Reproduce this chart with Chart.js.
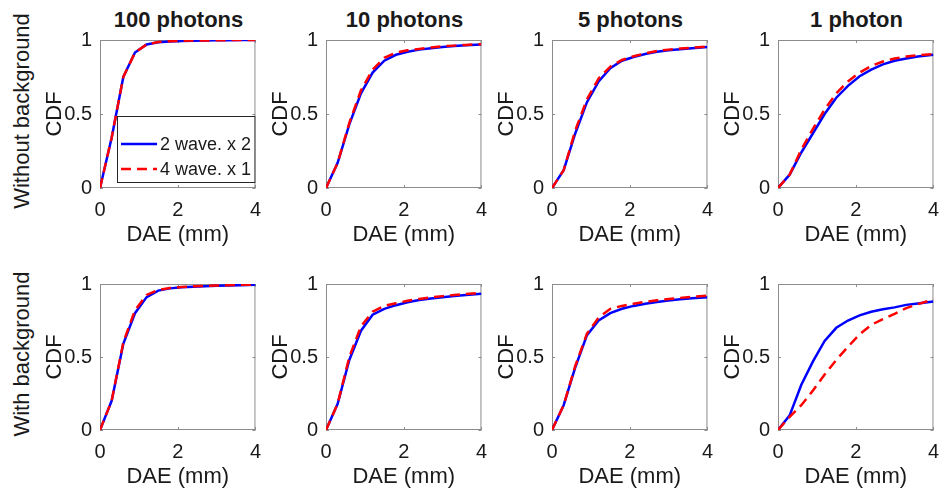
<!DOCTYPE html>
<html>
<head>
<meta charset="utf-8">
<script src="https://cdn.jsdelivr.net/npm/chart.js@4.4.1/dist/chart.umd.min.js"></script>
<style>
  body { margin: 0; background: #fff; }
  #wrap { position: relative; width: 942px; height: 495px; overflow: hidden; font-family: 'Liberation Sans', Arial, sans-serif; color: #1a1a1a; }
  canvas { position: absolute; }
  .ttl { position: absolute; font-weight: bold; font-size: 22px; transform: translate(-50%, -50%); white-space: nowrap; }
  .row { position: absolute; font-size: 22px; transform: translate(-50%, -50%) rotate(-90deg); white-space: nowrap; }
</style>
</head>
<body>
<div id="wrap"></div>
<script>
// DAE sample points (mm), shared by every panel
const dae = [0, 0.3, 0.6, 0.9, 1.2, 1.5, 1.8, 2.1, 2.4, 2.7, 3.0, 3.3, 3.6, 4.0];

const panelTitles = ['100 photons', '10 photons', '5 photons', '1 photon'];
const rowLabels = ['Without background', 'With background'];
const seriesNames = ['2 wave. x 2', '4 wave. x 1'];
const xTicks = [0, 2, 4];
const yTicks = [0, 0.5, 1];

// without background
const noBg100Wave2 = [0, 0.34, 0.75, 0.915, 0.97, 0.985, 0.99, 0.993, 0.995, 0.997, 0.998, 0.999, 1, 1];
const noBg100Wave4 = [0, 0.34, 0.75, 0.915, 0.97, 0.986, 0.991, 0.994, 0.996, 0.997, 0.998, 0.999, 1, 1];
const noBg10Wave2 = [0, 0.17, 0.43, 0.64, 0.78, 0.86, 0.90, 0.92, 0.935, 0.945, 0.953, 0.96, 0.965, 0.97];
const noBg10Wave4 = [0, 0.17, 0.44, 0.66, 0.80, 0.88, 0.915, 0.93, 0.94, 0.95, 0.957, 0.962, 0.967, 0.972];
const noBg5Wave2 = [0, 0.12, 0.37, 0.58, 0.72, 0.81, 0.86, 0.885, 0.905, 0.92, 0.93, 0.938, 0.945, 0.952];
const noBg5Wave4 = [0, 0.12, 0.39, 0.60, 0.74, 0.82, 0.865, 0.89, 0.91, 0.925, 0.935, 0.942, 0.948, 0.955];
const noBg1Wave2 = [0, 0.09, 0.24, 0.37, 0.50, 0.61, 0.69, 0.755, 0.80, 0.835, 0.86, 0.875, 0.888, 0.90];
const noBg1Wave4 = [0, 0.09, 0.26, 0.40, 0.53, 0.64, 0.72, 0.78, 0.825, 0.855, 0.875, 0.888, 0.897, 0.905];

// with background
const bg100Wave2 = [0, 0.20, 0.59, 0.80, 0.91, 0.955, 0.97, 0.978, 0.982, 0.985, 0.988, 0.99, 0.992, 0.995];
const bg100Wave4 = [0, 0.20, 0.60, 0.82, 0.925, 0.96, 0.972, 0.98, 0.984, 0.987, 0.99, 0.992, 0.994, 0.996];
const bg10Wave2 = [0, 0.18, 0.48, 0.68, 0.79, 0.83, 0.855, 0.875, 0.89, 0.90, 0.91, 0.918, 0.925, 0.934];
const bg10Wave4 = [0, 0.18, 0.50, 0.71, 0.81, 0.85, 0.868, 0.885, 0.898, 0.908, 0.917, 0.925, 0.932, 0.94];
const bg5Wave2 = [0, 0.17, 0.43, 0.65, 0.75, 0.80, 0.83, 0.85, 0.865, 0.877, 0.887, 0.895, 0.903, 0.91];
const bg5Wave4 = [0, 0.17, 0.44, 0.66, 0.77, 0.83, 0.85, 0.865, 0.878, 0.888, 0.897, 0.905, 0.912, 0.92];
const bg1Wave2 = [0, 0.10, 0.31, 0.47, 0.61, 0.70, 0.75, 0.785, 0.81, 0.827, 0.84, 0.857, 0.866, 0.88];
const bg1Wave4 = [0, 0.09, 0.17, 0.27, 0.38, 0.48, 0.57, 0.655, 0.72, 0.76, 0.795, 0.835, 0.862, 0.895];

const panels = [
    [[noBg100Wave2, noBg100Wave4], [noBg10Wave2, noBg10Wave4], [noBg5Wave2, noBg5Wave4], [noBg1Wave2, noBg1Wave4]],
    [[bg100Wave2, bg100Wave4], [bg10Wave2, bg10Wave4], [bg5Wave2, bg5Wave4], [bg1Wave2, bg1Wave4]]
];

// layout of the plot boxes in the page
const plotLefts = [100, 326, 552, 778];
const plotTops = [34, 278];
const plotHeights = [154, 152];
const PLOT_W = 157;
const Y_AXIS_W = 62;
const X_AXIS_H = 64;
const PAD_T = 14;
const PAD_R = 14;
const FONT = "'Liberation Sans', Arial, sans-serif";
const TEXT = '#1a1a1a';

// box round the plot area with small inward ticks (matlab look)
const boxAxes = {
    id: 'boxAxes',
    beforeDatasetsDraw(chart) {
        const { ctx, chartArea: a, scales } = chart;
        ctx.save();
        ctx.strokeStyle = '#8c8c8c';
        ctx.lineWidth = 1;
        ctx.strokeRect(a.left + 0.5, a.top + 0.5, a.width - 1, a.height - 1);
        ctx.beginPath();
        xTicks.forEach(v => {
            const px = Math.round(scales.x.getPixelForValue(v)) + 0.5;
            ctx.moveTo(px, a.bottom); ctx.lineTo(px, a.bottom - 3);
            ctx.moveTo(px, a.top); ctx.lineTo(px, a.top + 3);
        });
        yTicks.forEach(v => {
            const py = Math.round(scales.y.getPixelForValue(v)) + 0.5;
            ctx.moveTo(a.left, py); ctx.lineTo(a.left + 3, py);
            ctx.moveTo(a.right, py); ctx.lineTo(a.right - 3, py);
        });
        ctx.stroke();
        ctx.restore();
    }
};

// legend box inside the first panel
const boxLegend = {
    id: 'boxLegend',
    afterDatasetsDraw(chart, args, opts) {
        if (!opts.show) return;
        const { ctx, chartArea: a } = chart;
        const x0 = a.left + 17, y0 = a.top + 76, w = a.right - x0, h = 67;
        ctx.save();
        ctx.fillStyle = '#fff';
        ctx.fillRect(x0, y0, w, h);
        ctx.strokeStyle = '#262626';
        ctx.lineWidth = 1;
        ctx.strokeRect(x0 + 0.5, y0 + 0.5, w - 1, h - 1);
        chart.data.datasets.forEach((ds, i) => {
            const y = y0 + 28 + i * 25;
            ctx.strokeStyle = ds.borderColor;
            ctx.lineWidth = ds.borderWidth;
            ctx.setLineDash(ds.borderDash || []);
            ctx.beginPath();
            ctx.moveTo(x0 + 4, y);
            ctx.lineTo(x0 + 40, y);
            ctx.stroke();
            ctx.setLineDash([]);
            ctx.fillStyle = TEXT;
            ctx.font = '18px ' + FONT;
            ctx.textBaseline = 'middle';
            ctx.fillText(ds.label, x0 + 43, y + 1);
        });
        ctx.restore();
    }
};

const wrap = document.getElementById('wrap');

function makePanel(row, col) {
    const [wave2, wave4] = panels[row][col];
    const canvas = document.createElement('canvas');
    canvas.width = Y_AXIS_W + PLOT_W + PAD_R;
    canvas.height = PAD_T + plotHeights[row] + X_AXIS_H;
    canvas.style.left = (plotLefts[col] - Y_AXIS_W) + 'px';
    canvas.style.top = (plotTops[row] - PAD_T) + 'px';
    wrap.appendChild(canvas);

    new Chart(canvas, {
        type: 'line',
        data: {
            datasets: [{
                label: seriesNames[0],
                data: dae.map((x, i) => ({ x: x, y: wave2[i] })),
                borderColor: '#0000ff',
                borderWidth: 2.5,
                pointRadius: 0,
                tension: 0,
                order: 1
            }, {
                label: seriesNames[1],
                data: dae.map((x, i) => ({ x: x, y: wave4[i] })),
                borderColor: '#ff0000',
                borderWidth: 2.5,
                borderDash: [10, 6],
                pointRadius: 0,
                tension: 0,
                order: 0
            }]
        },
        options: {
            responsive: false,
            animation: false,
            devicePixelRatio: 1,
            layout: { padding: { top: PAD_T, right: PAD_R, left: 0, bottom: 0 } },
            plugins: {
                legend: { display: false },
                tooltip: { enabled: false },
                boxLegend: { show: row === 0 && col === 0 }
            },
            scales: {
                x: {
                    type: 'linear',
                    min: 0,
                    max: 4,
                    grid: { display: false, drawTicks: false },
                    border: { display: false },
                    ticks: { stepSize: 2, padding: 10, maxRotation: 0, color: TEXT, font: { family: FONT, size: 20 } },
                    title: { display: true, text: 'DAE (mm)', color: TEXT, font: { family: FONT, size: 22 } },
                    afterFit: s => { s.height = X_AXIS_H; }
                },
                y: {
                    min: 0,
                    max: 1,
                    grid: { display: false, drawTicks: false },
                    border: { display: false },
                    ticks: { stepSize: 0.5, padding: 8, color: TEXT, font: { family: FONT, size: 20 }, callback: v => String(v) },
                    title: { display: true, text: 'CDF', color: TEXT, font: { family: FONT, size: 22 } },
                    afterFit: s => { s.width = Y_AXIS_W; }
                }
            }
        },
        plugins: [boxAxes, boxLegend]
    });
}

panelTitles.forEach((t, col) => {
    const d = document.createElement('div');
    d.className = 'ttl';
    d.textContent = t;
    d.style.left = (plotLefts[col] + PLOT_W / 2) + 'px';
    d.style.top = '20px';
    wrap.appendChild(d);
});

rowLabels.forEach((t, row) => {
    const d = document.createElement('div');
    d.className = 'row';
    d.textContent = t;
    d.style.left = '22px';
    d.style.top = (plotTops[row] + plotHeights[row] / 2) + 'px';
    wrap.appendChild(d);
});

for (let row = 0; row < 2; row++) {
    for (let col = 0; col < 4; col++) makePanel(row, col);
}
</script>
</body>
</html>
